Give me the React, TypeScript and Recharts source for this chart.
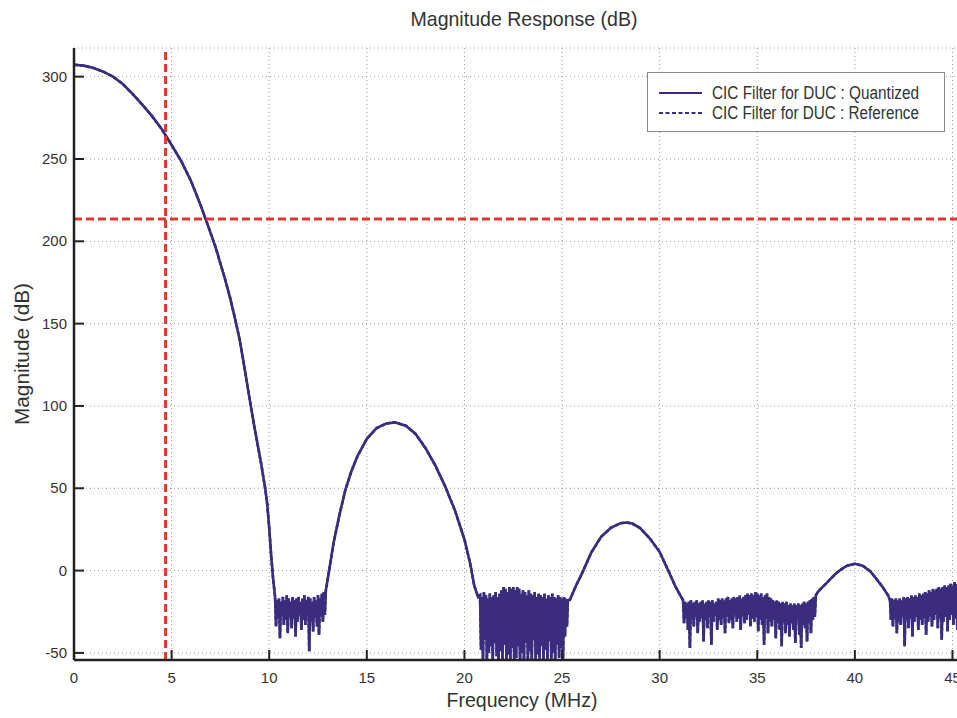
import React from "react";
import {
  LineChart,
  Line,
  XAxis,
  YAxis,
  CartesianGrid,
  ReferenceLine,
  Legend,
} from "recharts";

// frequency (MHz) / magnitude (dB)
const mainLobe: [number, number][] = [
  [0, 307.2], [0.5, 306.7], [1, 305.3], [1.5, 303], [2, 300], [2.5, 295.5],
  [3, 289.5], [3.5, 283], [4, 276], [4.5, 268], [5, 258.5], [5.5, 248.5],
  [6, 236.5], [6.5, 221.5], [7, 205], [7.25, 196.5], [7.5, 186.5], [7.75, 176.5],
  [8, 165.5], [8.25, 153], [8.5, 139.5], [8.75, 122], [9, 104], [9.2, 90],
  [9.4, 77], [9.6, 64], [9.8, 49.5], [9.9, 40], [10, 26], [10.1, 9], [10.2, -5],
];

const sideLobe1: [number, number][] = [
  [13.0, -5], [13.3, 17], [13.6, 34], [13.9, 49], [14.2, 60], [14.5, 69],
  [15.0, 80], [15.5, 86.5], [16.0, 89.3], [16.45, 90], [17.0, 88], [17.5, 83],
  [18.0, 74.5], [18.5, 64], [19.0, 51.5], [19.5, 37], [20.0, 19], [20.3, 4],
  [20.5, -9], [20.7, -16],
];

const sideLobe2: [number, number][] = [
  [25.4, -17.8], [25.7, -9.5], [26.0, -2.3], [26.5, 11], [27.0, 20.5],
  [27.5, 26], [28.0, 28.8], [28.3, 29.2], [28.6, 28.6], [29.0, 25.8],
  [29.5, 19.5], [30.0, 11.3], [30.5, -1.5], [30.8, -9.5], [31.1, -16],
];

const sideLobe3: [number, number][] = [
  [38.1, -13], [38.3, -10.5], [38.6, -7], [39.0, -2], [39.3, 0.8], [39.6, 3],
  [40.0, 4.1], [40.4, 3], [40.8, -0.5], [41.1, -5], [41.4, -9.6], [41.7, -15],
];

// quantization noise floor, sampled every 0.05 MHz
const noiseStep = 0.05;
const noise1Start = 10.3;
const noise1 = [
  -16, -34, -18, -29, -17, -41, -19, -27, -16, -33,
  -18, -30, -15, -38, -17, -28, -19, -35, -16, -29,
  -18, -40, -17, -31, -16, -27, -19, -36, -17, -30,
  -15, -33, -18, -28, -16, -49, -17, -31, -19, -37,
  -16, -29, -18, -34, -15, -39, -17, -28, -14, -31,
  -13, -27, -12,
];
const noise2Start = 20.8;
const noise2 = [
  -15, -48, -16, -54, -13, -42, -15, -55, -17, -50,
  -14, -46, -16, -55, -15, -44, -13, -52, -16, -55,
  -14, -49, -12, -55, -10, -45, -11, -55, -13, -51,
  -10, -55, -11, -47, -10, -55, -12, -53, -10, -46,
  -11, -55, -14, -50, -12, -55, -13, -44, -15, -55,
  -12, -49, -14, -55, -15, -42, -13, -55, -16, -51,
  -14, -55, -15, -46, -16, -55, -14, -48, -17, -55,
  -15, -43, -16, -55, -14, -50, -16, -55, -17, -45,
  -15, -53, -16, -47, -17, -55, -16, -40, -17, -34,
  -18,
];
const noise3Start = 31.2;
const noise3 = [
  -18, -32, -19, -29, -20, -36, -19, -47, -18, -30,
  -20, -34, -19, -28, -18, -38, -20, -31, -19, -29,
  -18, -43, -20, -30, -19, -35, -18, -28, -19, -45,
  -18, -31, -20, -27, -19, -36, -17, -30, -18, -33,
  -17, -29, -18, -38, -17, -28, -16, -32, -18, -30,
  -17, -35, -16, -27, -17, -31, -16, -29, -15, -36,
  -17, -28, -16, -32, -15, -30, -14, -27, -15, -34,
  -14, -29, -15, -31, -13, -28, -14, -37, -15, -30,
  -14, -33, -16, -45, -15, -29, -14, -38, -16, -31,
  -17, -34, -18, -30, -19, -41, -18, -32, -19, -36,
  -20, -46, -19, -31, -20, -38, -19, -33, -21, -40,
  -20, -32, -21, -36, -20, -44, -21, -30, -20, -39,
  -21, -47, -20, -33, -19, -35, -20, -43, -19, -31,
  -18, -38, -17, -30, -16, -28, -15,
];
const noise4Start = 41.8;
const noise4 = [
  -18, -30, -17, -34, -18, -29, -17, -38, -18, -31,
  -17, -33, -18, -28, -16, -46, -17, -30, -16, -35,
  -17, -29, -15, -40, -16, -31, -15, -28, -16, -36,
  -14, -30, -15, -33, -14, -29, -13, -39, -14, -31,
  -12, -28, -13, -34, -11, -30, -12, -27, -11, -35,
  -10, -29, -11, -42, -10, -31, -9, -28, -10, -37,
  -9, -30, -8, -27, -9, -33, -7, -29, -8, -36,
  -7, -28, -6, -32, -8, -27, -7, -34, -6, -29,
  -8, -31, -7, -27, -8,
];

const xTicks = [0, 5, 10, 15, 20, 25, 30, 35, 40, 45];
const yTicks = [-50, 0, 50, 100, 150, 200, 250, 300];
const passbandEdge = 4.69;
const attenuationLevel = 213.6;

const noiseRows = (start: number, values: number[]) =>
  values.map((v, i) => ({ f: +(start + i * noiseStep).toFixed(2), q: v, r: v }));
const lobeRows = (pts: [number, number][]) =>
  pts.map(([f, v]) => ({ f, q: v, r: v }));

const data = [
  ...lobeRows(mainLobe),
  ...noiseRows(noise1Start, noise1),
  ...lobeRows(sideLobe1),
  ...noiseRows(noise2Start, noise2),
  ...lobeRows(sideLobe2),
  ...noiseRows(noise3Start, noise3),
  ...lobeRows(sideLobe3),
  ...noiseRows(noise4Start, noise4),
];

const FONT = "'Liberation Sans', Arial, Helvetica, sans-serif";
const INK = "#333";
const CURVE = "#3b2c7e";
const RED = "#e3372d";

const YTick = ({ x, y, payload }: any) => (
  <g>
    <line x1={x + 7} x2={x + 17} y1={y} y2={y} stroke="#222" strokeWidth={2} />
    <text x={x} y={y + 5} textAnchor="end" fontSize={15} fill={INK} fontFamily={FONT}>
      {payload.value}
    </text>
  </g>
);

const XTick = ({ x, y, payload }: any) => (
  <g>
    <line x1={x} x2={x} y1={y - 10} y2={y - 20} stroke="#222" strokeWidth={2} />
    <text x={x} y={y + 13} textAnchor="middle" fontSize={15} fill={INK} fontFamily={FONT}>
      {payload.value}
    </text>
  </g>
);

const LegendBox = () => (
  <svg width={310} height={60} style={{ display: "block" }}>
    <rect x={0.5} y={0.5} width={297} height={59} fill="#fff" stroke="#888" strokeWidth={1} />
    <line x1={12} x2={55} y1={21} y2={21} stroke={CURVE} strokeWidth={2.2} />
    <text x={65} y={27} fontSize={18} fill={INK} fontFamily={FONT}
      textLength={207} lengthAdjust="spacingAndGlyphs">
      CIC Filter for DUC : Quantized
    </text>
    <line x1={12} x2={55} y1={41} y2={41} stroke={CURVE} strokeWidth={2.2} strokeDasharray="4 2.5" />
    <text x={65} y={47} fontSize={18} fill={INK} fontFamily={FONT}
      textLength={207} lengthAdjust="spacingAndGlyphs">
      CIC Filter for DUC : Reference
    </text>
  </svg>
);

export default function App() {
  return (
    <div
      style={{
        position: "fixed",
        left: 0,
        top: 0,
        width: 957,
        height: 718,
        overflow: "hidden",
        background: "#fff",
      }}
    >
      <svg width={957} height={40} style={{ position: "absolute", left: 0, top: 0 }}>
        <text x={524} y={26} textAnchor="middle" fontSize={21} fill={INK} fontFamily={FONT}
          textLength={227} lengthAdjust="spacingAndGlyphs">
          Magnitude Response (dB)
        </text>
      </svg>
      <LineChart
        width={982}
        height={718}
        data={data}
        margin={{ top: 48, right: 10, bottom: 8, left: 0 }}
      >
        <CartesianGrid stroke="#999" strokeDasharray="1 3" />
        <XAxis
          dataKey="f"
          type="number"
          domain={[0, 46]}
          ticks={xTicks}
          allowDataOverflow
          height={50}
          tickSize={0}
          tickMargin={10}
          tickLine={false}
          tick={<XTick />}
          axisLine={{ stroke: "#222", strokeWidth: 2.5 }}
          label={({ viewBox }: any) => (
            <text
              x={viewBox.x + viewBox.width / 2 - 1}
              y={viewBox.y + 47}
              textAnchor="middle"
              fontSize={21}
              fill={INK}
              fontFamily={FONT}
              textLength={151}
              lengthAdjust="spacingAndGlyphs"
            >
              Frequency (MHz)
            </text>
          )}
        />
        <XAxis
          xAxisId="top"
          orientation="top"
          dataKey="f"
          type="number"
          domain={[0, 46]}
          height={0}
          tick={false}
          tickLine={false}
          axisLine={{ stroke: "#222", strokeWidth: 2.5 }}
        />
        <YAxis
          type="number"
          domain={[-54.3, 317.4]}
          ticks={yTicks}
          allowDataOverflow
          width={74}
          tickSize={0}
          tickMargin={7}
          tickLine={false}
          tick={<YTick />}
          axisLine={{ stroke: "#222", strokeWidth: 2.5 }}
          label={({ viewBox }: any) => (
            <text
              x={viewBox.x + 29}
              y={viewBox.y + viewBox.height / 2}
              transform={`rotate(-90, ${viewBox.x + 29}, ${viewBox.y + viewBox.height / 2})`}
              textAnchor="middle"
              fontSize={21}
              fill={INK}
              fontFamily={FONT}
              textLength={142}
              lengthAdjust="spacingAndGlyphs"
            >
              Magnitude (dB)
            </text>
          )}
        />
        <Line
          dataKey="r"
          name="CIC Filter for DUC : Reference"
          stroke={CURVE}
          strokeWidth={2.6}
          strokeDasharray="4 2"
          dot={false}
          isAnimationActive={false}
        />
        <Line
          dataKey="q"
          name="CIC Filter for DUC : Quantized"
          stroke={CURVE}
          strokeWidth={2.6}
          dot={false}
          isAnimationActive={false}
        />
        <ReferenceLine x={passbandEdge} stroke={RED} strokeWidth={3} strokeDasharray="8 4" />
        <ReferenceLine y={attenuationLevel} stroke={RED} strokeWidth={3} strokeDasharray="8 4" />
        <Legend
          layout="horizontal"
          verticalAlign="middle"
          align="center"
          content={<LegendBox />}
          wrapperStyle={{ position: "absolute", left: 647, top: 72, width: 310, height: 60 }}
        />
      </LineChart>
    </div>
  );
}
